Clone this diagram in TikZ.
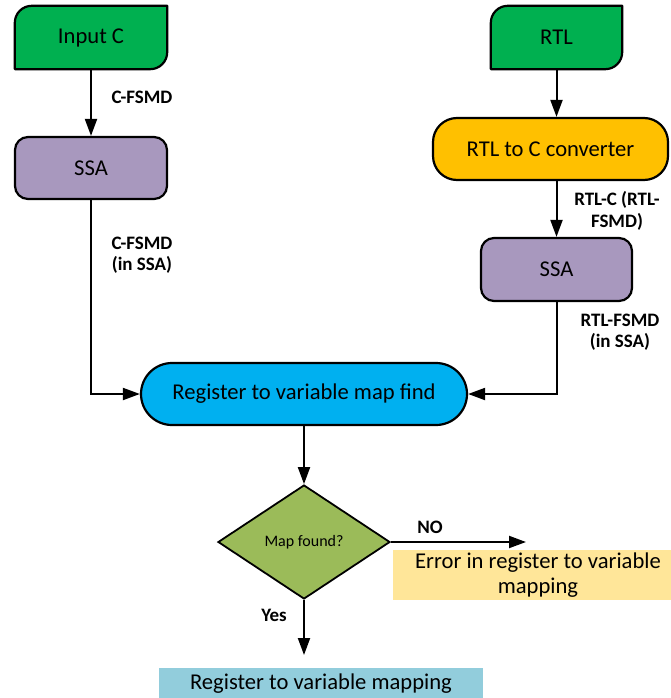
\documentclass[tikz,border=0pt]{standalone}
\usepackage{fontspec}
\setmainfont{Carlito}
\usetikzlibrary{shapes.geometric,arrows.meta,backgrounds,calc}

\definecolor{startgreen}{HTML}{00B050}
\definecolor{ssapurple}{HTML}{A898BE}
\definecolor{convorange}{HTML}{FFC000}
\definecolor{findblue}{HTML}{00B0F0}
\definecolor{decgreen}{HTML}{9BBB59}
\definecolor{errfill}{HTML}{FFE699}
\definecolor{resfill}{HTML}{92CDDC}

% outline of a start box: rounded top-left and bottom-right corners
\newcommand\ioshape[2]{%
  \begin{scope}[on background layer]
    \draw[line width=2.2pt, line join=round, fill=#2]
      (#1.south west) -- ($(#1.north west)+(0,17)$)
      .. controls ($(#1.north west)+(0,7.6)$) and ($(#1.north west)+(7.6,0)$) .. ($(#1.north west)+(17,0)$)
      -- (#1.north east) -- ($(#1.south east)+(0,-17)$)
      .. controls ($(#1.south east)+(0,-7.6)$) and ($(#1.south east)+(-7.6,0)$) .. ($(#1.south east)+(-17,0)$)
      -- cycle;
  \end{scope}}

\begin{document}
\begin{tikzpicture}[x=1pt,y=-1pt,
  maintext/.style={font=\fontsize{22.6}{25}\selectfont, text=black},
  iobox/.style={maintext, rectangle, minimum height=63pt, inner sep=0pt},
  procbox/.style={maintext, rectangle, draw, line width=2.2pt, rounded corners=13pt,
    fill=ssapurple, minimum width=152pt, minimum height=62pt, inner sep=0pt},
  convbox/.style={maintext, rectangle, draw, line width=2.2pt, rounded corners=24pt,
    fill=convorange, minimum width=235pt, minimum height=62pt, inner sep=0pt},
  findbox/.style={maintext, rectangle, draw, line width=2.2pt, rounded corners=31pt,
    fill=findblue, minimum width=326pt, minimum height=62pt, inner sep=0pt},
  decision/.style={diamond, draw, line width=1.8pt, fill=decgreen, inner sep=0pt,
    minimum width=172pt, minimum height=114pt, font=\fontsize{16}{19}\selectfont},
  plainbox/.style={maintext, rectangle, inner sep=0pt, align=center},
  lbl/.style={font=\bfseries\fontsize{19}{21.5}\selectfont, align=center, inner sep=0pt},
  flow/.style={line width=2pt, -{Triangle[length=17pt,width=12pt]}}
]
\useasboundingbox (0,0) rectangle (670,698);
\begin{scope}[on background layer]
  \fill[white] (0,0) rectangle (670,698);
\end{scope}

% start boxes
\node[iobox, minimum width=152pt] (inC) at (91,37.5) {Input C};
\ioshape{inC}{startgreen}
\node[iobox, minimum width=131pt] (rtl) at (556.5,37.5) {RTL};
\ioshape{rtl}{startgreen}

% processing boxes
\node[procbox] (ssaL) at (91,168) {SSA};
\node[convbox] (conv) at (550.5,149) {RTL to C converter};
\node[procbox, minimum width=151pt, minimum height=63pt] (ssaR) at (556.5,269.5) {SSA};
\node[findbox] (reg) at (304,394) {Register to variable map find};
\node[decision] (dec) at (304,542) {Map found?};

% outcome boxes
\node[plainbox, fill=errfill, minimum width=290pt, minimum height=50pt] (err) at (538,575)
  {Error in register to variable\\mapping};
\node[plainbox, fill=resfill, minimum width=324pt, minimum height=32pt] (res) at (321,684)
  {Register to variable mapping};

% free arrow ends
\coordinate (noEnd) at (526,542);
\coordinate (yesEnd) at (304,655);

% connectors
\draw[flow] (inC.south) -- (ssaL.north);
\draw[flow] (rtl.south) -- (rtl.south |- conv.north);
\draw[flow] (ssaR.north |- conv.south) -- (ssaR.north);
\draw[flow] (ssaL.south) |- (reg.west);
\draw[flow] (ssaR.south) |- (reg.east);
\draw[flow] (reg.south) -- (dec.north);
\draw[flow] (dec.east) -- (noEnd);
\draw[flow] (dec.south) -- (yesEnd);

% connector labels
\node[lbl] (l1) at (142,97) {C-FSMD};
\node[lbl] (l2) at (142,255) {C-FSMD\\(in SSA)};
\node[lbl] (l3) at (617,211) {RTL-C (RTL-\\FSMD)};
\node[lbl] (l4) at (620,332) {RTL-FSMD\\(in SSA)};
\node[lbl] (lno) at (430,527) {NO};
\node[lbl] (lyes) at (274,615) {Yes};
\end{tikzpicture}
\end{document}
